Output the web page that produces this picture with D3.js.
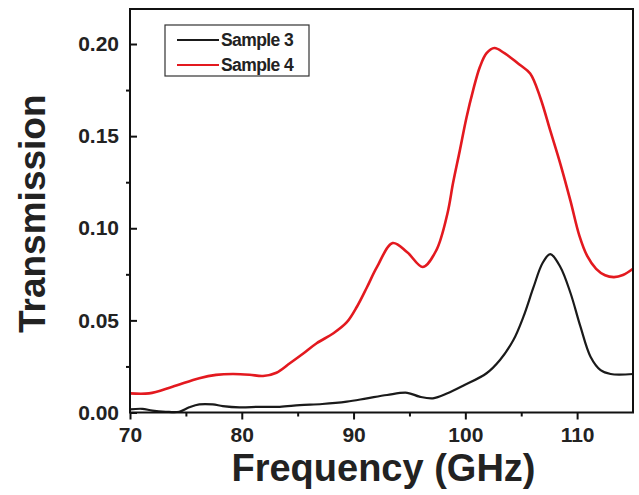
<!DOCTYPE html>
<html>
  <head>
    <meta charset="utf-8">
    <script src="https://d3js.org/d3.v7.min.js"></script>
    <style>
      body { margin: 0; background: #fff; }
      text { font-family: "Liberation Sans", Arial, sans-serif; font-weight: bold; fill: #222; }
    </style>
  </head>
  <body>
    <script>

// Sample 3 (black)
var freq3 = [70, 71.1, 72, 73.2, 74.4, 75.3, 76.2, 77.4, 78.3, 79.8, 81.6, 83.4, 85.2, 87.2, 89.4,
             91.2, 93, 94.8, 95.9, 97.1, 98.4, 99.8, 101.9, 103.1, 104.3, 105.2, 106.1, 106.9,
             107.6, 108.5, 109.4, 110.3, 111.2, 112.1, 113, 115];
var sample3 = [0.0017, 0.002, 0.001, 0.0004, 0.0004, 0.0028, 0.0044, 0.0044, 0.0035, 0.0028, 0.0031,
               0.0031, 0.004, 0.0046, 0.0059, 0.0077, 0.0095, 0.0107, 0.0086, 0.0077, 0.0104, 0.0145,
               0.0213, 0.0285, 0.0393, 0.052, 0.068, 0.081, 0.086, 0.079, 0.065, 0.0466, 0.0303,
               0.023, 0.0209, 0.0209];

// Sample 4 (red)
var freq4 = [70, 71.7, 73.8, 76.2, 77.7, 79.2, 80.7, 81.9, 83.1, 84.3, 85.5, 86.7, 88.2, 89.4, 90.3,
             91.2, 92.1, 93.5, 94.8, 96.2, 97.4, 98.4, 98.9, 99.5, 100.1, 100.7, 101.3, 101.9, 102.6,
             103.5, 104.9, 105.8, 106.7, 107.6, 108.5, 109.4, 110.2, 110.9, 111.7, 112.5, 113.3,
             114.1, 115];
var sample4 = [0.0104, 0.0104, 0.014, 0.0186, 0.0204, 0.0209, 0.0205, 0.0198, 0.0216, 0.0267, 0.032,
               0.0376, 0.043, 0.049, 0.0574, 0.068, 0.079, 0.092, 0.087, 0.079, 0.088, 0.108, 0.1245,
               0.142, 0.160, 0.175, 0.1875, 0.195, 0.1978, 0.195, 0.1886, 0.184, 0.171, 0.153, 0.135,
               0.115, 0.096, 0.085, 0.078, 0.0745, 0.0735, 0.0746, 0.078];

var xTicks = [70, 80, 90, 100, 110];
var xMinor = [75, 85, 95, 105];
var yTicks = [0.00, 0.05, 0.10, 0.15, 0.20];
var yMinor = [0.025, 0.075, 0.125, 0.175];

var seriesNames = ["Sample 3", "Sample 4"];
var seriesColors = ["#1a1a1a", "#e3191f"];

var w = 639, h = 495;
// plot frame (note: "top" is reserved on window, so prefixed names)
var pL = 130, pR = 633, pT = 9, pB = 412.5;

var x = d3.scaleLinear().domain([70, 115]).range([pL, pR]);
var y = d3.scaleLinear().domain([0, 0.219]).range([pB, pT]);

var svg = d3.select("body").append("svg")
    .attr("width", w)
    .attr("height", h);

// curves
var line = d3.line()
    .x(function(d) { return x(d[0]); })
    .y(function(d) { return y(d[1]); })
    .curve(d3.curveCatmullRom.alpha(0.5));

var series = [d3.zip(freq3, sample3), d3.zip(freq4, sample4)];

svg.selectAll("path.curve")
    .data(series)
    .enter()
    .append("path")
    .attr("class", "curve")
    .attr("d", line)
    .style("fill", "none")
    .style("stroke", function(d, i) { return seriesColors[i]; })
    .style("stroke-width", function(d, i) { return i == 1 ? 2.6 : 2.2; })
    .style("stroke-linejoin", "round");

// frame
svg.append("rect")
    .attr("x", pL)
    .attr("y", pT)
    .attr("width", pR - pL)
    .attr("height", pB - pT)
    .style("fill", "none")
    .style("stroke", "#111")
    .style("stroke-width", 2);

// x axis: major ticks outward, minor outward shorter
svg.append("g")
    .attr("transform", "translate(0," + pB + ")")
    .call(d3.axisBottom(x).tickValues(xTicks).tickSize(7).tickPadding(8).tickFormat(d3.format("d")));
svg.append("g")
    .attr("class", "minor")
    .attr("transform", "translate(0," + pB + ")")
    .call(d3.axisBottom(x).tickValues(xMinor).tickSize(4));

// y axis: major ticks inward, minor outward
svg.append("g")
    .attr("class", "minor")
    .attr("transform", "translate(" + pL + ",0)")
    .call(d3.axisRight(y).tickValues(yTicks).tickSize(7));
svg.append("g")
    .attr("class", "minor")
    .attr("transform", "translate(" + pL + ",0)")
    .call(d3.axisLeft(y).tickValues(yMinor).tickSize(4));
svg.append("g")
    .attr("transform", "translate(" + pL + ",0)")
    .call(d3.axisLeft(y).tickValues(yTicks).tickSize(0).tickPadding(11).tickFormat(d3.format(".2f")));

svg.selectAll(".domain").remove();
svg.selectAll(".minor text").remove();
svg.selectAll(".tick line").style("stroke", "#111").style("stroke-width", 2);
svg.selectAll(".tick text")
    .style("font-size", "21px")
    .style("font-family", "'Liberation Sans', Arial, sans-serif")
    .style("font-weight", "bold")
    .style("fill", "#222");

// axis titles
svg.append("text")
    .attr("x", (pL + pR) / 2 + 2)
    .attr("y", 481)
    .attr("text-anchor", "middle")
    .style("font-size", "38px")
    .text("Frequency (GHz)");

svg.append("text")
    .attr("transform", "translate(45," + ((pT + pB) / 2 + 3) + ") rotate(-90)")
    .attr("text-anchor", "middle")
    .style("font-size", "37px")
    .text("Transmission");

// legend
var legend = svg.append("g");
legend.append("rect")
    .attr("x", 165)
    .attr("y", 25)
    .attr("width", 144)
    .attr("height", 51)
    .style("fill", "#fff")
    .style("stroke", "#333")
    .style("stroke-width", 1.2);

var items = legend.selectAll("g.item")
    .data(seriesNames)
    .enter()
    .append("g")
    .attr("transform", function(d, i) { return "translate(0," + (40 + i * 25) + ")"; });

items.append("line")
    .attr("x1", 177)
    .attr("x2", 219)
    .style("stroke", function(d, i) { return seriesColors[i]; })
    .style("stroke-width", 2);

items.append("text")
    .attr("x", 221)
    .attr("y", 6)
    .style("font-size", "17.5px")
    .style("letter-spacing", "-0.6px")
    .text(function(d) { return d; });

    </script>
  </body>
</html>
